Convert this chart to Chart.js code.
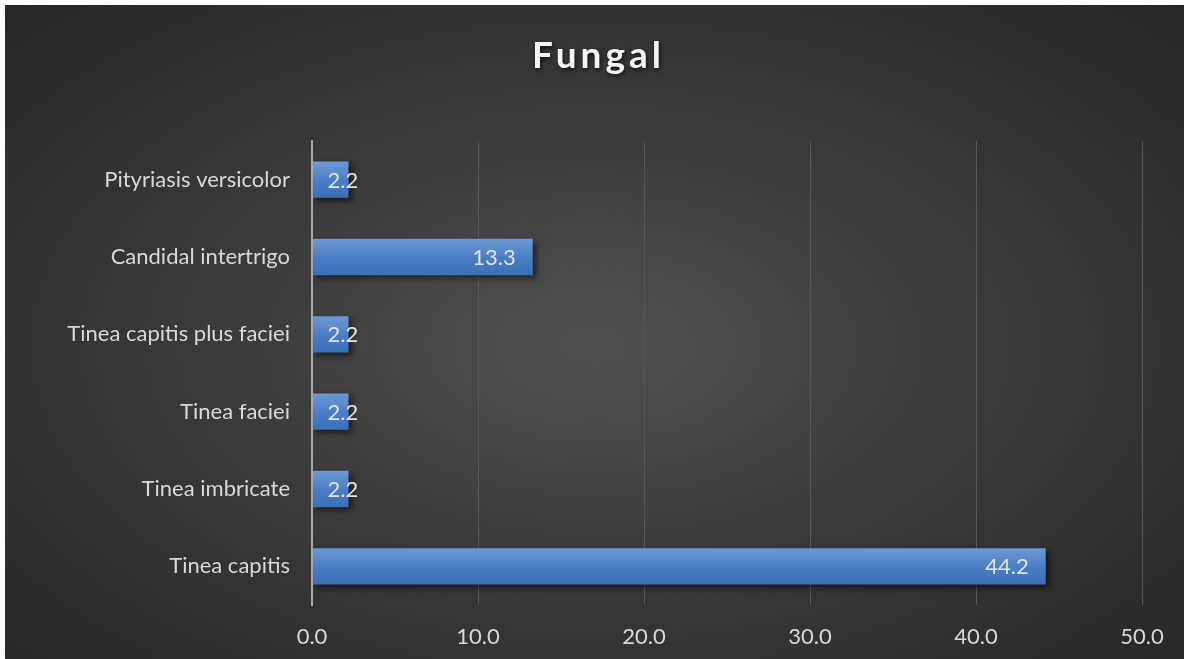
<!DOCTYPE html>
<html>
<head>
<meta charset="utf-8">
<script src="https://cdn.jsdelivr.net/npm/chart.js@4.4.1/dist/chart.umd.min.js"></script>
<style>
  html, body { margin: 0; padding: 0; background: #fff; }
  #panel {
    position: absolute; left: 5px; top: 5px; width: 1179px; height: 654px;
    background: radial-gradient(ellipse at 50% 52%, #505050 0%, #3b3b3b 45%, #262626 100%);
  }
  canvas { display: block; }
</style>
</head>
<body>
<div id="panel"><canvas id="fungalChart" width="1179" height="654"></canvas></div>
<script>
// Diagnoses, top to bottom
const categories = ['Pityriasis versicolor', 'Candidal intertrigo', 'Tinea capitis plus faciei', 'Tinea faciei', 'Tinea imbricate', 'Tinea capitis'];
// Percent of fungal cases
const percents = [2.2, 13.3, 2.2, 2.2, 2.2, 44.2];
const xTicks = [0, 10, 20, 30, 40, 50];

const FONT = 'Lato, "Open Sans", sans-serif';
const BAR_PCT = 0.47;

// vertical blue gradient per bar, like an office chart fill
function barFill(ctx) {
    const chart = ctx.chart;
    const y = chart.scales.y;
    if (ctx.type !== 'data' || !y || !chart.chartArea) return '#4a7ec4';
    const c = y.getPixelForValue(ctx.dataIndex);
    const half = (chart.chartArea.bottom - chart.chartArea.top) / categories.length * BAR_PCT / 2;
    const g = chart.ctx.createLinearGradient(0, c - half, 0, c + half);
    g.addColorStop(0, '#6e9ad5');
    g.addColorStop(0.5, '#4b7fc5');
    g.addColorStop(1, '#3b6fb5');
    return g;
}

const barShadow = {
    id: 'barShadow',
    beforeDatasetsDraw(chart) {
        const c = chart.ctx;
        c.save();
        c.shadowColor = 'rgba(0,0,0,0.55)';
        c.shadowBlur = 6;
        c.shadowOffsetX = 3;
        c.shadowOffsetY = 3;
    },
    afterDatasetsDraw(chart) {
        chart.ctx.restore();
    }
};

// value labels at the inside end of each bar
const valueLabels = {
    id: 'valueLabels',
    afterDraw(chart) {
        const c = chart.ctx;
        const meta = chart.getDatasetMeta(0);
        c.save();
        c.font = '22px ' + FONT;
        c.fillStyle = '#e4e4e4';
        c.textAlign = 'right';
        c.textBaseline = 'middle';
        meta.data.forEach((bar, i) => {
            const txt = percents[i].toFixed(1);
            const w = c.measureText(txt).width;
            const right = Math.max(bar.x - 17, bar.base + 15 + w);
            c.fillText(txt, right, bar.y + 1);
        });
        c.restore();
    }
};

const chartTitle = {
    id: 'chartTitle',
    afterDraw(chart) {
        const c = chart.ctx;
        c.save();
        c.font = 'bold 37px ' + FONT;
        c.letterSpacing = '4px';
        c.fillStyle = '#f4f4f4';
        c.textAlign = 'center';
        c.textBaseline = 'middle';
        c.shadowColor = 'rgba(0,0,0,0.7)';
        c.shadowBlur = 4;
        c.shadowOffsetX = 1;
        c.shadowOffsetY = 2;
        c.fillText('Fungal', chart.width / 2 + 4, 51);
        c.restore();
    }
};

new Chart(document.getElementById('fungalChart'), {
    type: 'bar',
    data: {
        labels: categories,
        datasets: [{
            data: percents,
            backgroundColor: barFill,
            borderWidth: 0,
            categoryPercentage: 1,
            barPercentage: BAR_PCT
        }]
    },
    options: {
        indexAxis: 'y',
        responsive: false,
        animation: false,
        layout: { padding: { top: 136, right: 42, left: 0, bottom: 0 } },
        plugins: {
            legend: { display: false },
            tooltip: { enabled: false }
        },
        scales: {
            x: {
                min: 0,
                max: 50,
                afterBuildTicks(scale) {
                    scale.ticks = xTicks.map(v => ({ value: v }));
                },
                afterFit(scale) { scale.height = 54; },
                grid: {
                    drawTicks: false,
                    color: ctx => ctx.tick && ctx.tick.value === 0 ? 'rgba(0,0,0,0)' : '#575757',
                    lineWidth: 1
                },
                border: { display: false },
                ticks: {
                    padding: 19,
                    color: '#d9d9d9',
                    font: { family: FONT, size: 22 },
                    callback: v => Number(v).toFixed(1)
                }
            },
            y: {
                afterFit(scale) { scale.width = 307; },
                grid: { display: false, drawTicks: false },
                border: { display: true, color: '#a8a8a8', width: 2, z: 1 },
                ticks: {
                    padding: 22,
                    color: '#d9d9d9',
                    font: { family: FONT, size: 22 }
                }
            }
        }
    },
    plugins: [barShadow, valueLabels, chartTitle]
});
</script>
</body>
</html>
